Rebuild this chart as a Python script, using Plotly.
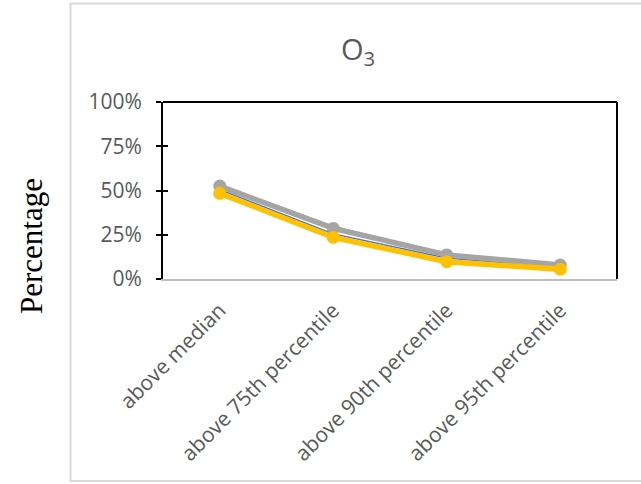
import plotly.graph_objects as go

categories = ["above median", "above 75th percentile", "above 90th percentile", "above 95th percentile"]
series_names = ["Series 1", "Series 2", "Series 3", "Series 4"]
series_values = [
    [0.505, 0.255, 0.118, 0.066],
    [0.530, 0.295, 0.140, 0.081],
    [0.525, 0.286, 0.136, 0.079],
    [0.484, 0.235, 0.098, 0.055],
]
series_colors = ["#4472C4", "#ED7D31", "#A5A5A5", "#FFC000"]
series_widths = [1.5, 2, 5.5, 5.5]
series_markers = [8, 8, 13, 13]
y_ticks = [0, 0.25, 0.5, 0.75, 1.0]
y_tick_labels = ["0%", "25%", "50%", "75%", "100%"]

fig = go.Figure()
for name, vals, col, w, ms in zip(series_names, series_values, series_colors, series_widths, series_markers):
    fig.add_trace(go.Scatter(
        x=categories, y=vals, name=name, mode="lines+markers",
        line=dict(color=col, width=w),
        marker=dict(color=col, size=ms),
        cliponaxis=False,
    ))

W, H = 641, 484
L, R, T, B = 163, 24, 102, 205

fig.update_layout(
    width=W, height=H,
    margin=dict(l=L, r=R, t=T, b=B),
    paper_bgcolor="white", plot_bgcolor="white",
    showlegend=False,
    font=dict(family="Open Sans", color="#595959"),
    xaxis=dict(
        type="category", range=[-0.5, 3.5], showgrid=False, zeroline=False,
        showline=True, linecolor="#BFBFBF", linewidth=1.5,
        tickangle=-45, ticks="", tickfont=dict(size=21, color="#595959"),
        ticklabelstandoff=9,
    ),
    yaxis=dict(
        range=[0, 1], tickvals=y_ticks, ticktext=y_tick_labels,
        showgrid=False, zeroline=False,
        showline=True, linecolor="black", linewidth=2,
        ticks="outside", ticklen=5, tickwidth=2, tickcolor="black",
        tickfont=dict(size=21, color="#595959"), ticklabelstandoff=10,
    ),
    yaxis2=dict(
        range=[0, 1], tickvals=y_ticks, overlaying="y", side="left",
        showgrid=False, zeroline=False, showline=False,
        ticks="inside", ticklen=5, tickwidth=2, tickcolor="black",
        showticklabels=False,
    ),
)
# invisible trace to activate the second y axis (inner tick halves)
fig.add_trace(go.Scatter(x=categories[:1], y=[0], yaxis="y2", mode="markers",
                         marker=dict(opacity=0), hoverinfo="skip", showlegend=False))

# plot-area frame: black top and right edges
fig.add_shape(type="line", xref="paper", yref="paper", x0=0, x1=1, y0=1, y1=1,
              line=dict(color="black", width=2))
fig.add_shape(type="line", xref="paper", yref="paper", x0=1, x1=1, y0=0, y1=1,
              line=dict(color="black", width=2))

# outer chart border (pixel coordinates converted to paper units)
pw, ph = W - L - R, H - T - B
def px(x):
    return (x - L) / pw
def py(y):
    return (H - B - y) / ph
fig.add_shape(type="rect", xref="paper", yref="paper",
              x0=px(70.5), x1=px(645), y0=py(481), y1=py(3.5),
              line=dict(color="#D9D9D9", width=2), layer="below")

fig.add_annotation(text="O<sub>3</sub>", xref="paper", yref="paper",
                   x=px(358), y=py(50), xanchor="center", yanchor="middle",
                   showarrow=False,
                   font=dict(size=29, color="#595959", family="Open Sans"))
fig.add_annotation(text="Percentage", xref="paper", yref="paper",
                   x=px(31), y=py(246), xanchor="center", yanchor="middle",
                   showarrow=False, textangle=-90,
                   font=dict(size=31, color="black", family="Liberation Serif"))

fig.write_html("out.html")
